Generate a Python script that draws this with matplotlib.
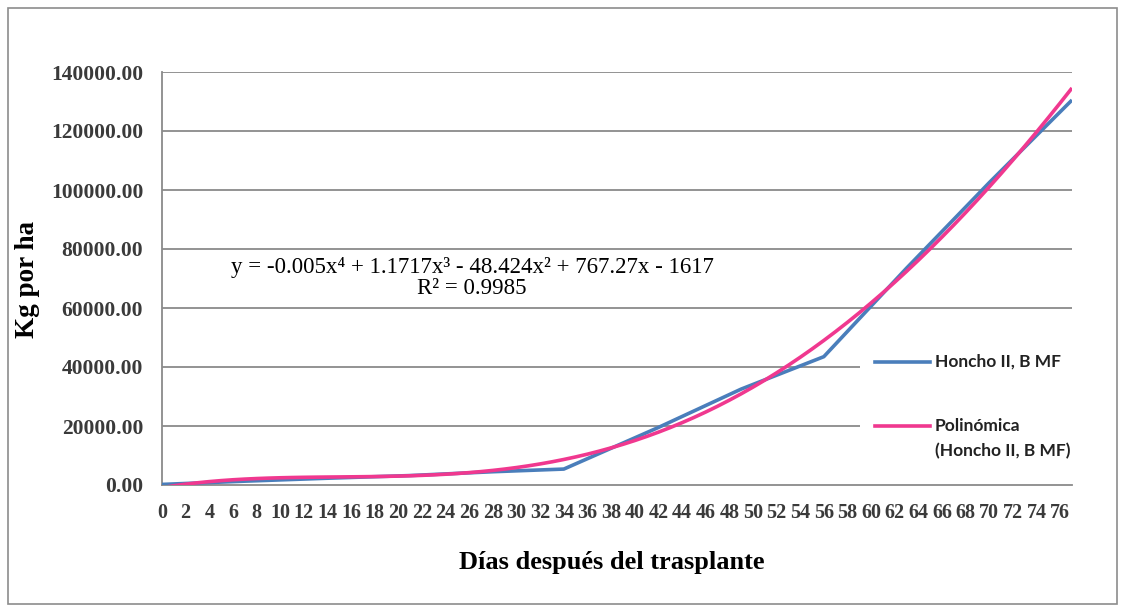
import numpy as np
import matplotlib
matplotlib.use("Agg")
import matplotlib.pyplot as plt
from matplotlib.patches import Rectangle
from matplotlib.lines import Line2D

# ---- data ----
days = list(range(0, 78))                       # category axis (days 0..77)
tick_days = list(range(0, 77, 2))               # labelled categories
tick_labels = [str(d) for d in tick_days]
sample_days = [0, 7, 14, 21, 28, 34, 42, 49, 56, 63, 70, 77]
kg_ha = [200, 1300, 2300, 3200, 4500, 5400, 19500, 32500, 43500, 73500, 102500, 130500]
# polynomial trendline coefficients shown in the chart (x = category index starting at 1)
poly_coef = [-0.005, 1.1717, -48.424, 767.27, -1617]
y_ticks = [0, 20000, 40000, 60000, 80000, 100000, 120000, 140000]

series_name = "Honcho II, B MF"
trend_name_1 = "Polinómica"
trend_name_2 = "(Honcho II, B MF)"
eq_text = "y = -0.005x\u2074 + 1.1717x\u00b3 - 48.424x\u00b2 + 767.27x - 1617\nR\u00b2 = 0.9985"

BLUE = "#4a7ebb"
PINK = "#f0388f"
GRID = "#8a8a8a"
W, H = 1125, 612

fig = plt.figure(figsize=(11.25, 6.12), dpi=100)
fig.patch.set_facecolor("white")
fig.add_artist(Rectangle((8/W, 1-604/H), 1109/W, 596/H, transform=fig.transFigure,
                         fill=False, edgecolor="#8c8c8c", linewidth=1.2))

ax = fig.add_axes([162/W, 1-485/H, (1072-162)/W, (485-72)/H])
ax.set_xlim(0, 77)
ax.set_ylim(0, 140000)

for yv in y_ticks[1:]:
    ax.axhline(yv, color=GRID, linewidth=1.3, zorder=0)

ax.plot(sample_days, kg_ha, color=BLUE, linewidth=2.6, zorder=3, solid_capstyle="butt")
xi = np.array(days, dtype=float)
trend = np.polyval(poly_coef, xi + 1)
ax.plot(days, trend, color=PINK, linewidth=2.6, zorder=4, solid_capstyle="butt")

for s in ["top", "right"]:
    ax.spines[s].set_visible(False)
for s in ["left", "bottom"]:
    ax.spines[s].set_color(GRID)
    ax.spines[s].set_linewidth(1.3)

serif = ["Liberation Serif", "DejaVu Serif"]
ax.set_yticks(y_ticks)
ax.set_yticklabels([f"{v:.2f}" for v in y_ticks], fontfamily=serif, fontweight="bold",
                   fontsize=15.5, color="#3a3a3a")
ax.set_xticks(tick_days)
ax.set_xticklabels(tick_labels, fontfamily=serif, fontweight="bold", fontsize=14.5, color="#3a3a3a")
ax.tick_params(axis="both", length=0)
ax.tick_params(axis="y", pad=13.5)
ax.tick_params(axis="x", pad=13)

fig.text(28/W, 1-280/H, "Kg por ha", rotation=90, ha="center", va="center",
         fontfamily=serif, fontweight="bold", fontsize=19.5, color="black")
fig.text(612/W, 1-563/H, "Días después del trasplante", ha="center", va="center",
         fontfamily=serif, fontweight="bold", fontsize=19, color="black")
fig.text(472/W, 1-278/H, eq_text, ha="center", va="center", multialignment="center",
         fontfamily=serif, fontsize=16.5, color="black", linespacing=1.05, zorder=10)

# legend (drawn as figure artists so the box covers the gridlines like the original)
fig.add_artist(Rectangle((860/W, 1-472/H), 215/W, 137/H, transform=fig.transFigure,
                         facecolor="white", edgecolor="none", zorder=5))
leg_font = {"family": "Lato", "size": 12.5, "weight": "bold", "color": "#222222"}
for y_px, color in [(362, BLUE), (426, PINK)]:
    fig.add_artist(Line2D([875/W, 930/W], [1-y_px/H, 1-y_px/H], transform=fig.transFigure,
                          color=color, linewidth=2.6, zorder=6))
fig.text(935/W, 1-362/H, series_name, ha="left", va="center", zorder=6, **leg_font)
fig.text(935/W, 1-426/H, trend_name_1, ha="left", va="center", zorder=6, **leg_font)
fig.text(935/W, 1-451/H, trend_name_2, ha="left", va="center", zorder=6, **leg_font)

fig.savefig("out.png", dpi=100, facecolor="white")
